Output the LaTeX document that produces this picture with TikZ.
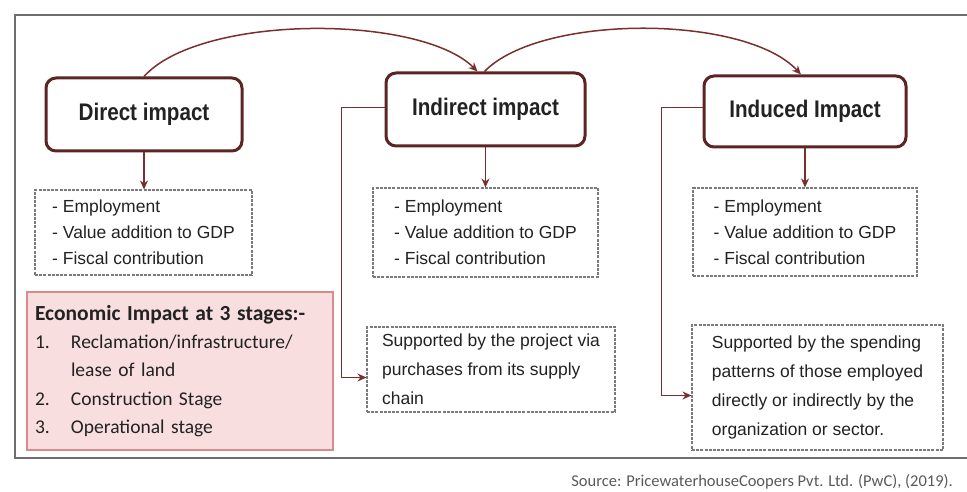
\documentclass[tikz,border=0pt]{standalone}
\usepackage{fontspec}
\setmainfont{Liberation Sans}
\newfontfamily\titlefont[FakeStretch=0.86]{Liberation Sans}
\newfontfamily\calfont{Carlito}
\usetikzlibrary{arrows.meta}
\definecolor{maroon}{HTML}{5E2323}
\definecolor{connred}{HTML}{7A2E2E}
\definecolor{dashgray}{HTML}{7A7A7A}
\definecolor{pinkfill}{HTML}{F8DEDE}
\definecolor{pinkline}{HTML}{D98A8A}
\definecolor{framegray}{HTML}{6E6E6E}
\definecolor{txtgray}{HTML}{222222}
\tikzset{
  titlebox/.style={draw=maroon, line width=3pt, rounded corners=10pt, fill=white,
    font=\titlefont\bfseries\fontsize{24}{28}\selectfont, text=txtgray},
  listbox/.style={draw=dashgray, line width=1.1pt, dash pattern=on 3pt off 1.2pt,
    align=left, font=\fontsize{17.5}{26}\selectfont, text=txtgray, inner sep=0pt},
  econbox/.style={draw=pinkline, line width=1.5pt, fill=pinkfill, align=left,
    font=\calfont\fontsize{19.5}{28.3}\selectfont, text=txtgray, inner xsep=8pt, inner ysep=0pt},
  conn/.style={draw=connred, line width=1.5pt},
  tip/.style={-{Stealth[length=9pt,width=8pt]}},
  framestyle/.style={draw=framegray, line width=2.2pt}
}
\begin{document}
\begin{tikzpicture}[x=1pt,y=-1pt]
\useasboundingbox (0,0) rectangle (967,492);
% outer frame
\coordinate (ftr) at (967,15);
\coordinate (ftl) at (15,15);
\coordinate (fbl) at (15,458);
\coordinate (fbr) at (967,458);
\draw[framestyle] (ftr) -- (ftl) -- (fbl) -- (fbr);

% title boxes
\node[titlebox, minimum width=196pt, minimum height=73pt] (D) at (144,114.5) {Direct impact};
\node[titlebox, minimum width=199pt, minimum height=73pt] (I) at (485.5,109.5) {Indirect impact};
\node[titlebox, minimum width=202pt, minimum height=71pt] (N) at (805,111.5) {Induced Impact};

% list boxes
\node[listbox, minimum width=217pt, minimum height=85pt] (L1) at (143.5,232.5)
  {- Employment\\- Value addition to GDP\\- Fiscal contribution};
\node[listbox, minimum width=225pt, minimum height=89pt] (L2) at (485.5,232.5)
  {- Employment\\- Value addition to GDP\\- Fiscal contribution};
\node[listbox, minimum width=224pt, minimum height=88pt] (L3) at (805,232)
  {- Employment\\- Value addition to GDP\\- Fiscal contribution};

% economic box
\node[econbox, text width=290pt, minimum height=158pt] (E) at (180,371)
  {{\bfseries\fontsize{21.5}{28.3}\selectfont Economic Impact at 3 stages:-}\\
   \makebox[36pt][l]{1.}Reclamation/infrastructure/\\
   \hspace*{36pt}lease of land\\
   \makebox[36pt][l]{2.}Construction Stage\\
   \makebox[36pt][l]{3.}Operational stage};

% supported boxes
\node[listbox, font=\fontsize{17.5}{29}\selectfont, minimum width=248pt, minimum height=85pt] (S2) at (491,369.5)
  {Supported by the project via\\purchases from its supply\\chain};
\node[listbox, font=\fontsize{17.5}{29}\selectfont, minimum width=251pt, minimum height=125pt] (S3) at (817.5,387.5)
  {Supported by the spending\\patterns of those employed\\directly or indirectly by the\\organization or sector.};

% curved arrows
\draw[conn, tip] (D.north) .. controls (200,14) and (420,14) .. ([xshift=-8pt]I.north);
\draw[conn, tip] ([xshift=-1pt]I.north) .. controls (540,14) and (745,14) .. ([xshift=-4pt]N.north);

% down arrows
\draw[conn, tip] (D.south) -- (D.south |- L1.north);
\draw[conn, tip] (I.south) -- (I.south |- L2.north);
\draw[conn, tip] (N.south) -- (N.south |- L3.north);

% elbow arrows
\draw[conn, tip] ([yshift=2pt]I.west) -- ++(-43,0) |- ([yshift=-8pt]S2.west);
\draw[conn, tip] ([yshift=4pt]N.west) -- ++(-41,0) |- ([yshift=-8pt]S3.west);

% source
\node[font=\calfont\fontsize{16.5}{18}\selectfont, text=black!65, anchor=east, inner sep=0pt] (src) at (953,482)
  {Source: PricewaterhouseCoopers Pvt. Ltd. (PwC), (2019).};
\end{tikzpicture}
\end{document}
